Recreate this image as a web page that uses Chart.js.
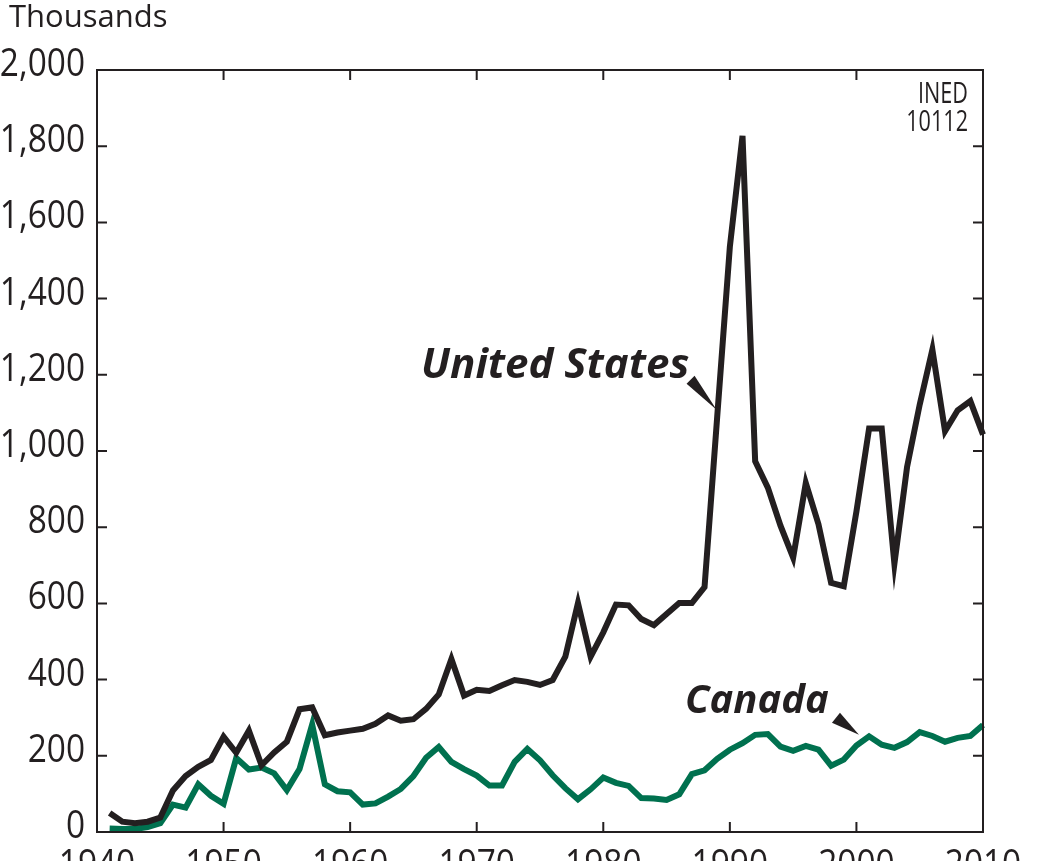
<!DOCTYPE html>
<html>
<head>
<meta charset="utf-8">
<script src="https://cdn.jsdelivr.net/npm/chart.js@4"></script>
<style>
  html, body { margin: 0; padding: 0; background: #ffffff; }
  #wrap { width: 1050px; height: 861px; }
</style>
</head>
<body>
<div id="wrap"><canvas id="immChart" width="1050" height="861"></canvas></div>
<script>
// Lata i wartości (tysiące imigrantów)
const years = [1941, 1942, 1943, 1944, 1945, 1946, 1947, 1948, 1949, 1950,
  1951, 1952, 1953, 1954, 1955, 1956, 1957, 1958, 1959, 1960,
  1961, 1962, 1963, 1964, 1965, 1966, 1967, 1968, 1969, 1970,
  1971, 1972, 1973, 1974, 1975, 1976, 1977, 1978, 1979, 1980,
  1981, 1982, 1983, 1984, 1985, 1986, 1987, 1988, 1989, 1990,
  1991, 1992, 1993, 1994, 1995, 1996, 1997, 1998, 1999, 2000,
  2001, 2002, 2003, 2004, 2005, 2006, 2007, 2008, 2009, 2010];

const usValues = [50, 27, 23, 27, 38, 109, 147, 171, 189, 250,
  208, 266, 175, 209, 237, 322, 327, 254, 261, 266,
  271, 284, 306, 292, 296, 323, 361, 454, 358, 373,
  370, 385, 399, 394, 386, 399, 460, 601, 460, 524,
  597, 595, 559, 543, 572, 601, 601, 643, 1090, 1536,
  1827, 973, 904, 804, 720, 916, 808, 654, 645, 841,
  1059, 1059, 704, 958, 1122, 1266, 1052, 1107, 1131, 1043];

const canadaValues = [9, 8, 8, 13, 23, 72, 64, 125, 95, 74,
  194, 164, 169, 154, 110, 165, 282, 125, 107, 104,
  72, 75, 93, 113, 147, 195, 223, 184, 165, 148,
  122, 122, 184, 218, 188, 149, 115, 86, 112, 143,
  129, 121, 89, 88, 84, 99, 152, 162, 192, 216,
  233, 255, 257, 224, 213, 226, 216, 174, 190, 227,
  251, 229, 221, 236, 262, 252, 237, 247, 252, 281];

const xTicks = [1940, 1950, 1960, 1970, 1980, 1990, 2000, 2010];
const yTicks = [0, 200, 400, 600, 800, 1000, 1200, 1400, 1600, 1800, 2000];

const INK = "#231f20";
const GREEN = "#00714f";
const SQUEEZE = 0.88; // węższy krój jak w oryginale

// Ramka, krótkie znaczniki do środka, opisy osi i podpisy
const framePlugin = {
  id: "frame",
  afterDraw(chart) {
    const ctx = chart.ctx;
    const a = chart.chartArea;
    const xs = chart.scales.x;
    const ys = chart.scales.y;
    const tick = 10;

    ctx.save();
    ctx.strokeStyle = INK;
    ctx.lineWidth = 2;
    ctx.strokeRect(a.left, a.top, a.right - a.left, a.bottom - a.top);

    ctx.beginPath();
    xTicks.forEach(v => {
      const px = xs.getPixelForValue(v);
      ctx.moveTo(px, a.bottom);
      ctx.lineTo(px, a.bottom - tick);
      ctx.moveTo(px, a.top);
      ctx.lineTo(px, a.top + tick);
    });
    yTicks.forEach(v => {
      const py = ys.getPixelForValue(v);
      ctx.moveTo(a.left, py);
      ctx.lineTo(a.left + tick, py);
      ctx.moveTo(a.right, py);
      ctx.lineTo(a.right - tick, py);
    });
    ctx.stroke();

    ctx.fillStyle = INK;
    ctx.textBaseline = "alphabetic";

    // Opisy osi Y
    ctx.font = "38px 'Open Sans'";
    ctx.textAlign = "right";
    yTicks.forEach(v => {
      const py = ys.getPixelForValue(v);
      ctx.save();
      ctx.translate(a.left - 12, py + 6);
      ctx.scale(SQUEEZE, 1);
      ctx.fillText(v.toLocaleString("en-US"), 0, 0);
      ctx.restore();
    });

    // Opisy osi X (przycięte dołem jak w oryginale)
    ctx.textAlign = "center";
    xTicks.forEach(v => {
      const px = xs.getPixelForValue(v);
      ctx.save();
      ctx.translate(px, a.bottom + 45);
      ctx.scale(SQUEEZE, 1);
      ctx.fillText(String(v), 0, 0);
      ctx.restore();
    });

    // Jednostka
    ctx.font = "31px 'Open Sans'";
    ctx.textAlign = "left";
    ctx.fillText("Thousands", 9, 27);

    // Numer INED
    ctx.font = "30px 'Open Sans'";
    ctx.textAlign = "right";
    ctx.save();
    ctx.translate(968, 0);
    ctx.scale(0.72, 1);
    ctx.fillText("INED", 0, 103);
    ctx.fillText("10112", 0, 131);
    ctx.restore();

    // Etykiety serii
    ctx.font = "italic bold 42px 'Open Sans'";
    ctx.textAlign = "left";
    ctx.fillText("United States", 421, 378);
    ctx.font = "italic bold 40px 'Open Sans'";
    ctx.fillText("Canada", 685, 713);

    // Strzałki
    const arrow = (year, value, bx1, by1, bx2, by2) => {
      const tx = xs.getPixelForValue(year);
      const ty = ys.getPixelForValue(value);
      ctx.beginPath();
      ctx.moveTo(tx, ty);
      ctx.lineTo(tx + bx1, ty + by1);
      ctx.lineTo(tx + bx2, ty + by2);
      ctx.closePath();
      ctx.fill();
    };
    arrow(1988.95, 1108, -30, -26, -22, -34);
    arrow(2000.2, 255, -27, -12, -19, -22);

    ctx.restore();
  }
};

const ctx = document.getElementById("immChart").getContext("2d");
const immChart = new Chart(ctx, {
  type: "line",
  data: {
    datasets: [{
      label: "United States",
      data: years.map((yr, i) => ({ x: yr, y: usValues[i] })),
      borderColor: INK,
      borderWidth: 6,
      borderJoinStyle: "miter",
      pointRadius: 0,
      tension: 0,
      clip: false
    }, {
      label: "Canada",
      data: years.map((yr, i) => ({ x: yr, y: canadaValues[i] })),
      borderColor: GREEN,
      borderWidth: 6,
      borderJoinStyle: "miter",
      pointRadius: 0,
      tension: 0,
      clip: false
    }]
  },
  options: {
    responsive: false,
    animation: false,
    devicePixelRatio: 1,
    layout: { padding: { top: 70, right: 67, left: 0, bottom: 0 } },
    scales: {
      x: {
        type: "linear",
        min: 1940,
        max: 2010,
        afterBuildTicks: scale => { scale.ticks = xTicks.map(v => ({ value: v })); },
        afterFit: scale => { scale.height = 29; },
        ticks: { display: false },
        grid: { display: false, drawTicks: false },
        border: { display: false }
      },
      y: {
        min: 0,
        max: 2000,
        afterBuildTicks: scale => { scale.ticks = yTicks.map(v => ({ value: v })); },
        afterFit: scale => { scale.width = 97; },
        ticks: { display: false },
        grid: { display: false, drawTicks: false },
        border: { display: false }
      }
    },
    plugins: {
      legend: { display: false },
      tooltip: { enabled: false }
    }
  },
  plugins: [framePlugin]
});
</script>
</body>
</html>
